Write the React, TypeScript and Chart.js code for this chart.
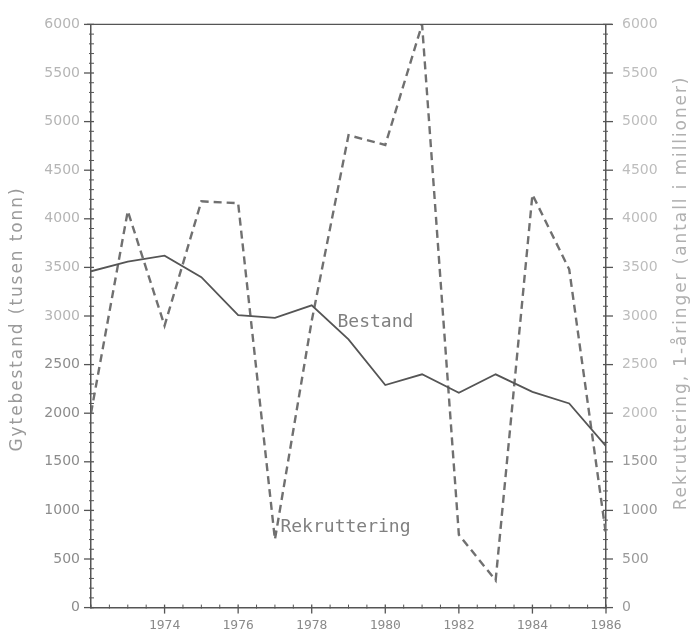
import React, { useEffect, useRef } from "react";
import { Chart, registerables } from "chart.js";

Chart.register(...registerables);

// ---- data ----
const years = [1972, 1973, 1974, 1975, 1976, 1977, 1978, 1979, 1980, 1981, 1982, 1983, 1984, 1985, 1986];
const bestand = [3460, 3560, 3620, 3400, 3010, 2980, 3110, 2760, 2290, 2400, 2210, 2400, 2220, 2100, 1660];
const rekruttering = [2000, 4080, 2900, 4180, 4160, 700, 2950, 4860, 4760, 6000, 750, 280, 4250, 3480, 750];
const xLabelYears = [1974, 1976, 1978, 1980, 1982, 1984, 1986];
const yMax = 6000;
const yStep = 500;
const seriesNames = ["Bestand", "Rekruttering"];
const leftTitle = "Gytebestand (tusen tonn)";
const rightTitle = "Rekruttering, 1-åringer (antall i millioner)";
// label anchors in data units (x = year, y = value)
const bestandLabelAt = { x: 1978.7, y: 2930 };
const rekrutLabelAt = { x: 1977.15, y: 830 };

const AXIS = "#555";

const decorPlugin = {
  id: "decor",
  afterDraw(chart: any) {
    const { ctx, chartArea, scales } = chart;
    const x = scales.x;
    const y = scales.y;
    const y1 = scales.y1;
    ctx.save();
    ctx.strokeStyle = AXIS;
    ctx.lineWidth = 1.3;
    // top frame line
    ctx.beginPath();
    ctx.moveTo(chartArea.left - 4, chartArea.top);
    ctx.lineTo(chartArea.right + 6, chartArea.top);
    ctx.stroke();
    // y tick marks (left & right)
    for (let v = 0; v <= yMax; v += 100) {
      const major = v % yStep === 0;
      const py = y.getPixelForValue(v);
      ctx.lineWidth = major ? 1.3 : 1;
      ctx.beginPath();
      ctx.moveTo(chartArea.left - (major ? 7 : 2), py);
      ctx.lineTo(chartArea.left + 3, py);
      ctx.stroke();
      const pr = y1.getPixelForValue(v);
      ctx.beginPath();
      ctx.moveTo(chartArea.right - 3, pr);
      ctx.lineTo(chartArea.right + (major ? 7 : 2), pr);
      ctx.stroke();
    }
    // x tick marks
    for (let t = years[0]; t <= years[years.length - 1] + 0.001; t += 0.5) {
      const px = x.getPixelForValue(t);
      const major = xLabelYears.includes(t);
      ctx.lineWidth = major ? 1.3 : 1;
      ctx.beginPath();
      ctx.moveTo(px, chartArea.bottom - 3);
      ctx.lineTo(px, chartArea.bottom + (major ? 6 : 1));
      ctx.stroke();
    }
    // series labels
    ctx.fillStyle = "#808080";
    ctx.font = "18px 'DejaVu Sans Mono'";
    ctx.textAlign = "left";
    ctx.textBaseline = "middle";
    ctx.fillText(seriesNames[0], x.getPixelForValue(bestandLabelAt.x), y.getPixelForValue(bestandLabelAt.y));
    ctx.fillText(seriesNames[1], x.getPixelForValue(rekrutLabelAt.x), y1.getPixelForValue(rekrutLabelAt.y));
    // axis titles
    ctx.fillStyle = "#9a9a9a";
    ctx.font = "17px 'DejaVu Sans'";
    (ctx as any).letterSpacing = "1.9px";
    ctx.textAlign = "center";
    ctx.save();
    ctx.translate(chartArea.left - 73, (chartArea.top + chartArea.bottom) / 2 + 3);
    ctx.rotate(-Math.PI / 2);
    ctx.fillText(leftTitle, 0, 0);
    ctx.restore();
    ctx.fillStyle = "#b0b0b0";
    ctx.save();
    ctx.translate(chartArea.right + 76, (chartArea.top + chartArea.bottom) / 2 - 23);
    ctx.rotate(-Math.PI / 2);
    ctx.fillText(rightTitle, 0, 0);
    ctx.restore();
    ctx.restore();
  },
};

export default function App() {
  const ref = useRef<HTMLCanvasElement | null>(null);
  useEffect(() => {
    if (!ref.current) return;
    const chart = new Chart(ref.current, {
      type: "line",
      data: {
        datasets: [
          {
            label: seriesNames[0],
            data: years.map((yr, i) => ({ x: yr, y: bestand[i] })),
            borderColor: "#555555",
            borderWidth: 1.8,
            pointRadius: 0,
            tension: 0,
            yAxisID: "y",
          },
          {
            label: seriesNames[1],
            data: years.map((yr, i) => ({ x: yr, y: rekruttering[i] })),
            borderColor: "#707070",
            borderWidth: 2.4,
            borderDash: [8, 5],
            pointRadius: 0,
            tension: 0,
            yAxisID: "y1",
          },
        ],
      },
      options: {
        animation: false,
        responsive: true,
        maintainAspectRatio: false,
        layout: { padding: { top: 20, left: 0, right: 0, bottom: 0 } },
        plugins: { legend: { display: false }, tooltip: { enabled: false } },
        scales: {
          x: {
            type: "linear",
            min: years[0],
            max: years[years.length - 1],
            afterFit: (s: any) => { s.height = 24; },
            afterBuildTicks: (s: any) => { s.ticks = xLabelYears.map((v) => ({ value: v })); },
            grid: { display: false, drawTicks: false },
            border: { display: true, color: AXIS, width: 1.5 },
            ticks: {
              autoSkip: false,
              maxRotation: 0,
              padding: 10,
              color: "#8a8a8a",
              font: { family: "'DejaVu Sans Mono'", size: 13 },
              callback: (v: any) => String(v),
            },
          },
          y: {
            type: "linear",
            position: "left",
            min: 0,
            max: yMax,
            afterFit: (s: any) => { s.width = 91; },
            grid: { display: false, drawTicks: false },
            border: { display: true, color: AXIS, width: 1.5 },
            ticks: {
              stepSize: yStep,
              padding: 11,
              color: (c: any) => (c.tick && c.tick.value > 2500 ? "#b5b5b5" : "#8c8c8c"),
              font: { family: "'DejaVu Sans'", size: 14 },
              callback: (v: any) => String(v),
            },
          },
          y1: {
            type: "linear",
            position: "right",
            min: 0,
            max: yMax,
            afterFit: (s: any) => { s.width = 91; },
            grid: { display: false, drawTicks: false },
            border: { display: true, color: AXIS, width: 1.5 },
            ticks: {
              stepSize: yStep,
              padding: 16,
              color: (c: any) => (c.tick && c.tick.value > 1500 ? "#bdbdbd" : "#9a9a9a"),
              font: { family: "'DejaVu Sans'", size: 14 },
              callback: (v: any) => String(v),
            },
          },
        },
      },
      plugins: [decorPlugin],
    });
    return () => chart.destroy();
  }, []);
  return (
    <div style={{ position: "absolute", left: 0, top: 0, width: 697, height: 632, background: "#fff" }}>
      <canvas ref={ref} />
    </div>
  );
}
